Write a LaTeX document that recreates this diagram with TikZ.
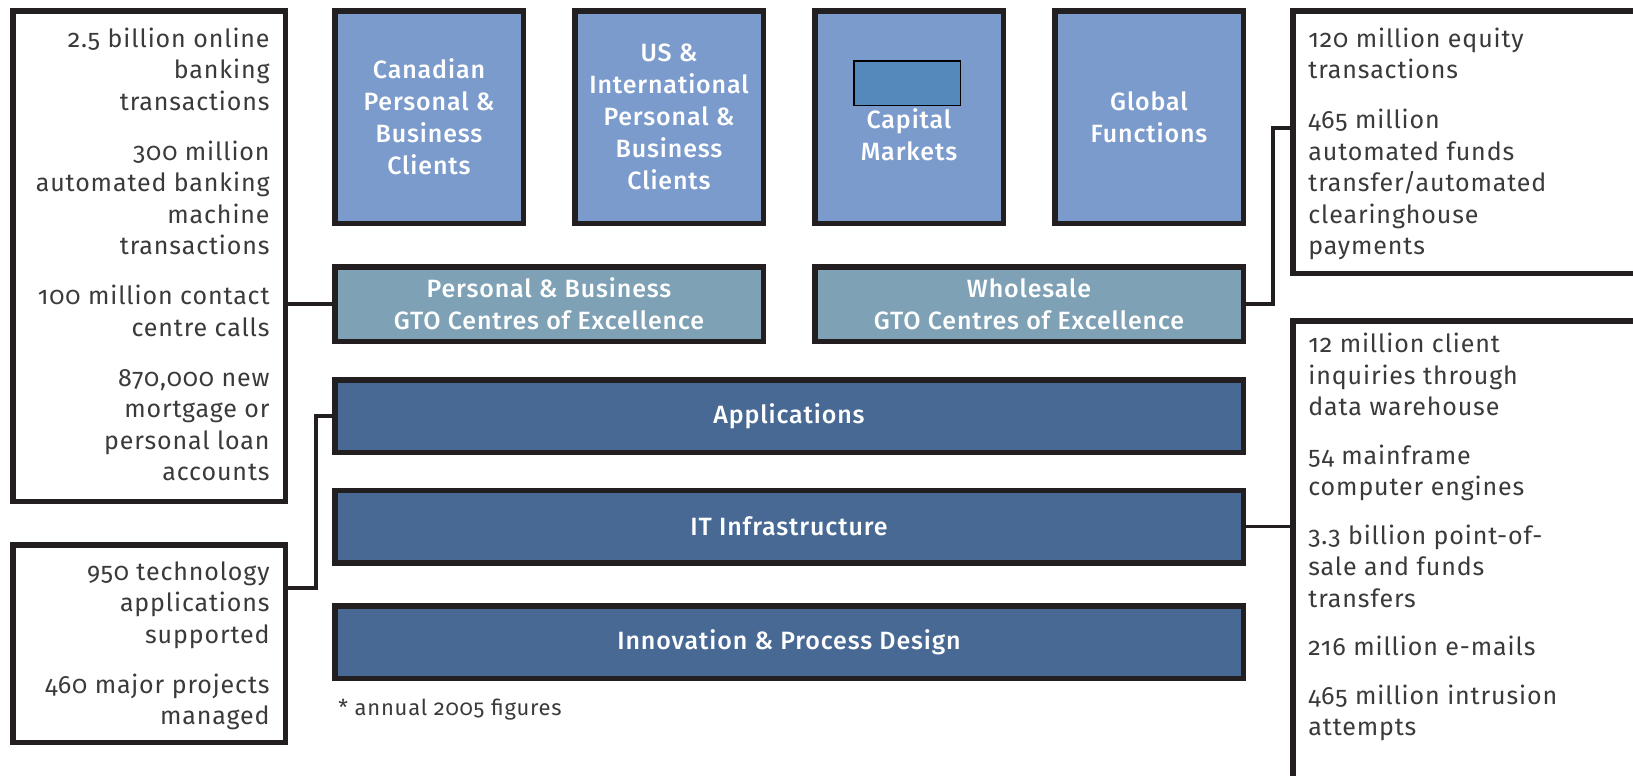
\documentclass[tikz,border=0pt]{standalone}
\usepackage{fontspec}
\setmainfont{Fira Sans}[Numbers=OldStyle, LetterSpace=3.5]
\newfontfamily\unitface{Fira Sans Medium}[Numbers=OldStyle, LetterSpace=3.5]

\definecolor{edge}{HTML}{231F20}
\definecolor{unitblue}{HTML}{7B9BCC}
\definecolor{gtoblue}{HTML}{7FA1B5}
\definecolor{baseblue}{HTML}{486994}
\definecolor{maskblue}{HTML}{5588BB}
\definecolor{infogray}{HTML}{3A3A3A}

\newcommand{\unitfont}{\fontsize{12.5}{16}\unitface}
\newcommand{\infofont}{\fontsize{12.5}{15.75}\selectfont}

\tikzset{
  frame/.style={draw=edge, line width=2.75pt},
  unit/.style={frame, fill=unitblue, text=white, align=center, font=\unitfont,
    minimum width=94.25pt, minimum height=106.25pt, inner sep=0pt},
  gto/.style={frame, fill=gtoblue, text=white, align=center, font=\unitfont,
    minimum width=214.25pt, minimum height=37.25pt, inner sep=0pt},
  layer/.style={frame, fill=baseblue, text=white, font=\unitfont,
    minimum width=454.25pt, minimum height=36.25pt, inner sep=0pt},
  infobox/.style={frame, fill=white, inner sep=0pt},
  infotext/.style={text=infogray, font=\infofont, inner sep=0pt},
  link/.style={draw=edge, line width=1.75pt},
}

\begin{document}
\begin{tikzpicture}[x=0.5pt, y=-0.5pt]
  \useasboundingbox (0,0) rectangle (1633,776);

  % business units
  \node[unit] (cdn) at (429,117) {Canadian\\Personal \&\\Business\\Clients};
  \node[unit] (intl) at (669,117) {US \&\\International\\Personal \&\\Business\\Clients};
  \node[unit] (capm) at (909,117) {\strut\\Capital\\Markets};
  \node[unit] (glob) at (1149,117) {Global\\Functions};
  \node[draw=black, line width=0.75pt, fill=maskblue, minimum width=53.25pt,
    minimum height=22.25pt, inner sep=0pt] (capmask) at (907,83) {};

  % centres of excellence
  \node[gto] (pbgto) at (549,304) {Personal \& Business\\GTO Centres of Excellence};
  \node[gto] (wgto) at (1029,304) {Wholesale\\GTO Centres of Excellence};

  % shared layers
  \node[layer] (apps) at (789,416) {Applications};
  \node[layer] (infra) at (789,526.5) {IT Infrastructure};
  \node[layer] (innov) at (789,642) {Innovation \& Process Design};

  % figures
  \node[infobox, minimum width=136.25pt, minimum height=245.25pt] (lA) at (149,256) {};
  \node[infotext, align=right, anchor=north east] (lAtxt) at (270,27.5)
    {2.5 billion online\\banking\\transactions\\[9.25pt]300 million\\automated banking\\machine\\transactions\\[9.25pt]100 million contact\\centre calls\\[9.25pt]870,000 new\\mortgage or\\personal loan\\accounts};
  \node[infobox, minimum width=136.25pt, minimum height=98.75pt] (lB) at (149,643.5) {};
  \node[infotext, align=right, anchor=north east] (lBtxt) at (270,561)
    {950 technology\\applications\\supported\\[9.25pt]460 major projects\\managed};
  \node[infobox, minimum width=192.25pt, minimum height=131.25pt] (rC) at (1485,142) {};
  \node[infotext, align=left, anchor=north west] (rCtxt) at (1308,27.5)
    {120 million equity\\transactions\\[9.25pt]465 million\\automated funds\\transfer/automated\\clearinghouse\\payments};
  \node[infobox, minimum width=192.25pt, minimum height=238.25pt] (rD) at (1485,559) {};
  \node[infotext, align=left, anchor=north west] (rDtxt) at (1308,333)
    {12 million client\\inquiries through\\data warehouse\\[8.5pt]54 mainframe\\computer engines\\[8.5pt]3.3 billion point-of-\\sale and funds\\transfers\\[8.5pt]216 million e-mails\\[8.5pt]465 million intrusion\\attempts};

  \node[text=infogray, font=\fontsize{11}{12}\selectfont, anchor=base west, inner sep=0pt]
    (note) at (338,715) {* annual 2005 figures};

  % connectors
  \draw[link] (lA.east |- pbgto.west) -- (pbgto.west);
  \draw[link] ([yshift=27.75pt]lB.east) -- ++(28,0) |- (apps.west);
  \draw[link] (wgto.east) -- ++(27,0) |- ([yshift=7pt]rC.west);
  \draw[link] (infra.east) -- (infra.east -| rD.west);
\end{tikzpicture}
\end{document}
